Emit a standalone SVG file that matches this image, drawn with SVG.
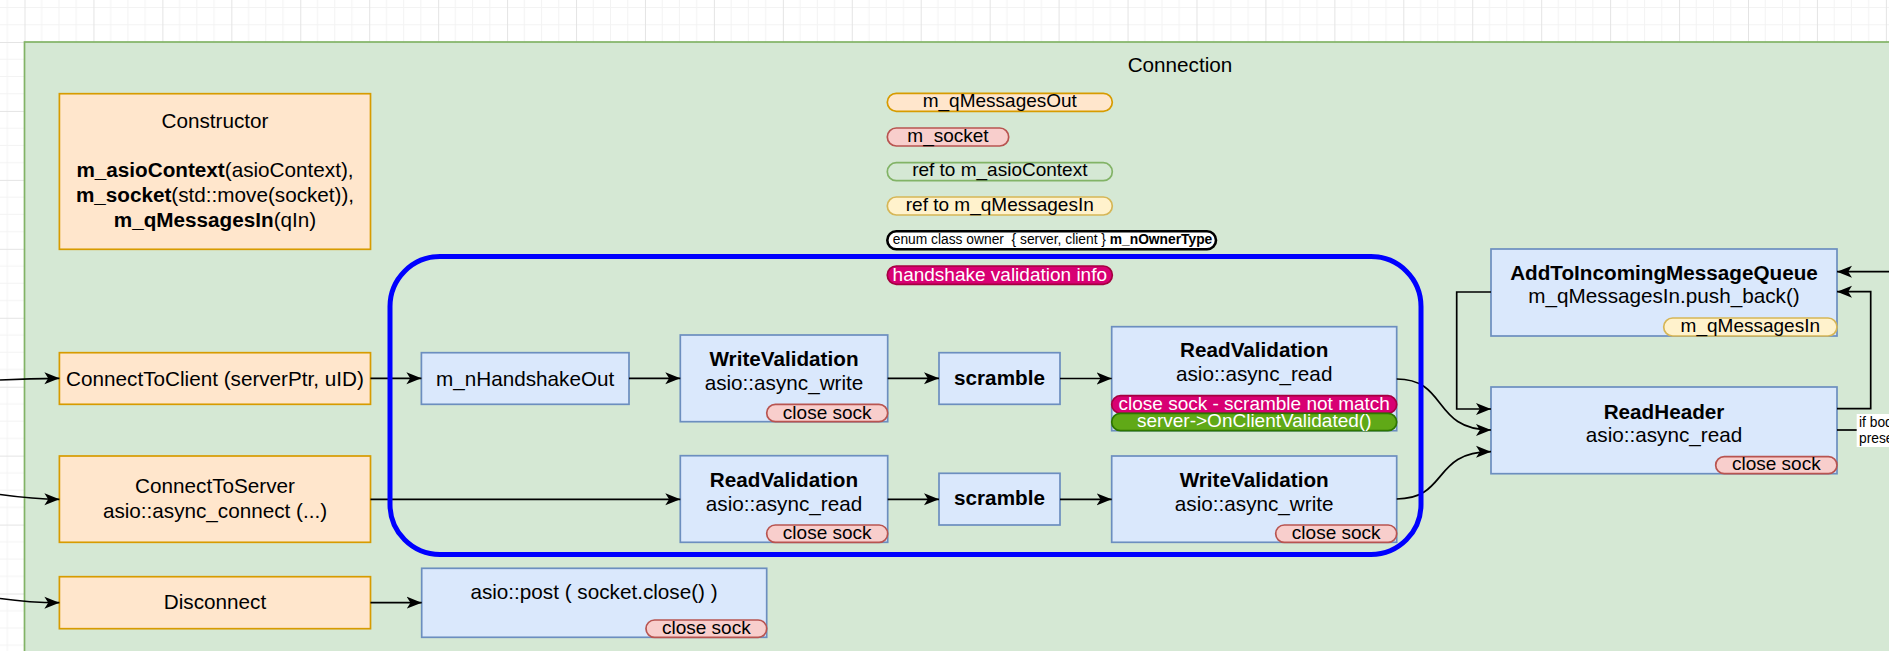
<svg xmlns="http://www.w3.org/2000/svg" width="1889" height="651" viewBox="0 0 1889 651">
<style>
text{font-family:"Liberation Sans",Arial,Helvetica,sans-serif;fill:#000;text-anchor:middle}
.f12{font-size:20.7px}
.f11{font-size:19px}
.f8{font-size:13.8px}
.bd{font-weight:bold}
.w{fill:#fff}
.o{fill:#ffe6cc;stroke:#d79b00;stroke-width:1.7}
.b{fill:#dae8fc;stroke:#6c8ebf;stroke-width:1.7}
.pr{fill:#f8cecc;stroke:#b85450;stroke-width:1.7}
.pg{fill:#d5e8d4;stroke:#82b366;stroke-width:1.7}
.py{fill:#fff2cc;stroke:#d6b656;stroke-width:1.7}
.po{fill:#ffe6cc;stroke:#d79b00;stroke-width:1.7}
.pm{fill:#d80073;stroke:#a50040;stroke-width:1.7}
.pgr{fill:#60a917;stroke:#2d7600;stroke-width:1.7}
.pe{fill:#fff;stroke:#000;stroke-width:2.6}
#edges path{fill:none;stroke:#000;stroke-width:1.7;marker-end:url(#arr)}
#edges path.nm{marker-end:none}
</style>
<defs>
<marker id="arr" markerUnits="userSpaceOnUse" markerWidth="16" markerHeight="13" refX="15" refY="6.5" orient="auto">
<path d="M0,0.5 L15,6.5 L0,12.5 L3.8,6.5 Z" fill="#000"/>
</marker>
<pattern id="grid" patternUnits="userSpaceOnUse" x="24.5" y="42" width="68.94" height="68.94">
<path d="M17.235,0V68.94M34.47,0V68.94M51.705,0V68.94M0,17.235H68.94M0,34.47H68.94M0,51.705H68.94" stroke="#f3f3f3" stroke-width="1" fill="none"/>
<path d="M0.5,0V68.94M0,0.5H68.94" stroke="#e4e4e4" stroke-width="1" fill="none"/>
</pattern>
</defs>
<rect x="0" y="0" width="1889" height="651" fill="#fff"/>
<rect x="0" y="0" width="1889" height="651" fill="url(#grid)"/>

<g id="container">
<rect x="24.5" y="42" width="1900" height="700" fill="#d5e8d4" stroke="#82b366" stroke-width="1.7"/>
<text class="f12" x="1180" y="72">Connection</text>
</g>

<g id="members">
<g id="m_qMessagesOut"><rect class="po" x="887.3" y="93.3" width="225" height="18" rx="9"/><text class="f11" x="999.8" y="106.7">m_qMessagesOut</text></g>
<g id="m_socket"><rect class="pr" x="887.3" y="128" width="121.4" height="18" rx="9"/><text class="f11" x="948" y="141.7">m_socket</text></g>
<g id="ref_asioContext"><rect class="pg" x="887.3" y="162.7" width="225" height="18" rx="9"/><text class="f11" x="999.8" y="176">ref to m_asioContext</text></g>
<g id="ref_qMessagesIn"><rect class="py" x="887.3" y="197" width="225" height="18" rx="9"/><text class="f11" x="999.8" y="211">ref to m_qMessagesIn</text></g>
<g id="ownerType"><rect class="pe" x="887.3" y="231.3" width="328.7" height="18" rx="9"/><text class="f8" x="1052.5" y="244">enum class owner&#160; { server, client } <tspan class="bd">m_nOwnerType</tspan></text></g>
<g id="handshakeInfo"><rect class="pm" x="887.3" y="266" width="225" height="18.3" rx="9"/><text class="f11 w" x="999.8" y="280.7">handshake validation info</text></g>
</g>

<g id="constructor">
<rect class="o" x="59.4" y="93.7" width="311.1" height="155.6"/>
<text class="f12" x="215" y="127.5">Constructor</text>
<text class="f12" x="215" y="177"><tspan class="bd">m_asioContext</tspan>(asioContext),</text>
<text class="f12" x="215" y="202"><tspan class="bd">m_socket</tspan>(std::move(socket)),</text>
<text class="f12" x="215" y="227"><tspan class="bd">m_qMessagesIn</tspan>(qIn)</text>
</g>

<g id="connectToClient">
<rect class="o" x="59.4" y="352.7" width="311.1" height="51.6"/>
<text class="f12" x="215" y="385.5">ConnectToClient (serverPtr, uID)</text>
</g>

<g id="connectToServer">
<rect class="o" x="59.4" y="456" width="311.1" height="86.3"/>
<text class="f12" x="215" y="493">ConnectToServer</text>
<text class="f12" x="215" y="518">asio::async_connect (...)</text>
</g>

<g id="disconnect">
<rect class="o" x="59.4" y="576.7" width="311.1" height="52"/>
<text class="f12" x="215" y="608.5">Disconnect</text>
</g>

<g id="handshakeOut">
<rect class="b" x="421.4" y="352.7" width="207.6" height="51.6"/>
<text class="f12" x="525.2" y="385.5">m_nHandshakeOut</text>
</g>

<g id="writeValidation1">
<rect class="b" x="680.3" y="335" width="207.4" height="86.7"/>
<text class="f12 bd" x="784" y="365.7">WriteValidation</text>
<text class="f12" x="784" y="390">asio::async_write</text>
<rect class="pr" x="766.7" y="404.3" width="121" height="17.4" rx="8.7"/>
<text class="f11" x="827.2" y="418.5">close sock</text>
</g>

<g id="scramble1">
<rect class="b" x="939" y="352.7" width="121" height="51.6"/>
<text class="f12 bd" x="999.5" y="385">scramble</text>
</g>

<g id="readValidation1">
<rect class="b" x="1111.7" y="326.7" width="285" height="104"/>
<text class="f12 bd" x="1254.2" y="356.7">ReadValidation</text>
<text class="f12" x="1254.2" y="381">asio::async_read</text>
<rect class="pm" x="1111.7" y="395.7" width="285" height="17.6" rx="8.8"/>
<text class="f11 w" x="1254.2" y="410">close sock - scramble not match</text>
<rect class="pgr" x="1111.7" y="413.3" width="285" height="17.4" rx="8.7"/>
<text class="f11 w" x="1254.2" y="427.3">server-&gt;OnClientValidated()</text>
</g>

<g id="readValidation2">
<rect class="b" x="680.3" y="455.7" width="207.4" height="86.6"/>
<text class="f12 bd" x="784" y="486.5">ReadValidation</text>
<text class="f12" x="784" y="511">asio::async_read</text>
<rect class="pr" x="766.7" y="525" width="121" height="17.3" rx="8.6"/>
<text class="f11" x="827.2" y="538.5">close sock</text>
</g>

<g id="scramble2">
<rect class="b" x="939" y="473.3" width="121" height="51.7"/>
<text class="f12 bd" x="999.5" y="505">scramble</text>
</g>

<g id="writeValidation2">
<rect class="b" x="1111.7" y="456" width="285" height="86.3"/>
<text class="f12 bd" x="1254.2" y="486.5">WriteValidation</text>
<text class="f12" x="1254.2" y="511">asio::async_write</text>
<rect class="pr" x="1275.7" y="525" width="121" height="17.3" rx="8.6"/>
<text class="f11" x="1336.2" y="538.5">close sock</text>
</g>

<g id="asioPost">
<rect class="b" x="421.7" y="568.3" width="345" height="69"/>
<text class="f12" x="594" y="598.5">asio::post ( socket.close() )</text>
<rect class="pr" x="646" y="620" width="120.7" height="17.3" rx="8.6"/>
<text class="f11" x="706.3" y="634">close sock</text>
</g>

<g id="addToIncoming">
<rect class="b" x="1491" y="249" width="346" height="87"/>
<text class="f12 bd" x="1664" y="279.5">AddToIncomingMessageQueue</text>
<text class="f12" x="1664" y="303">m_qMessagesIn.push_back()</text>
<rect class="py" x="1663.7" y="318" width="173.3" height="18" rx="9"/>
<text class="f11" x="1750.3" y="331.7">m_qMessagesIn</text>
</g>

<g id="readHeader">
<rect class="b" x="1491" y="387" width="346" height="86.7"/>
<text class="f12 bd" x="1664" y="418.5">ReadHeader</text>
<text class="f12" x="1664" y="441.5">asio::async_read</text>
<rect class="pr" x="1715.7" y="456.7" width="121.3" height="17" rx="8.5"/>
<text class="f11" x="1776.3" y="469.7">close sock</text>
</g>

<g id="edges">
<path d="M0,380 C25,378.6 40,378.3 59.4,378.3"/>
<path d="M0,494.5 C25,498 40,499.3 59.4,499.3"/>
<path d="M0,598.5 C25,602 40,602.7 59.4,602.7"/>
<path d="M370.5,378.3 L421.4,378.3"/>
<path d="M629,378.3 L680.3,378.3"/>
<path d="M887.7,378.3 L939,378.3"/>
<path d="M1060,378.5 L1111.7,378.5"/>
<path d="M370.5,499.3 L680.3,499.3"/>
<path d="M887.7,499.3 L939,499.3"/>
<path d="M1060,499.3 L1111.7,499.3"/>
<path d="M370.5,602.7 L421.7,602.7"/>
<path d="M1396.7,379 C1448,379 1432,430 1491,430"/>
<path d="M1396.7,499 C1448,499 1432,451.7 1491,451.7"/>
<path d="M1491,292 L1456.7,292 L1456.7,409 L1491,409"/>
<path d="M1837,408.7 L1870.7,408.7 L1870.7,291.7 L1837,291.7"/>
<path d="M1889,271.7 L1837,271.7"/>
<path class="nm" d="M1837,430 L1860,430"/>
</g>

<g id="bodyLabel">
<rect x="1856.7" y="414" width="60" height="33" fill="#fff"/>
<text class="f8" x="1859" y="426.7" style="text-anchor:start">if body</text>
<text class="f8" x="1859" y="443" style="text-anchor:start">present</text>
</g>

<g id="handshakeGroup">
<rect x="390" y="256.5" width="1031" height="298" rx="50" fill="none" stroke="#0000ff" stroke-width="5"/>
</g>
</svg>
